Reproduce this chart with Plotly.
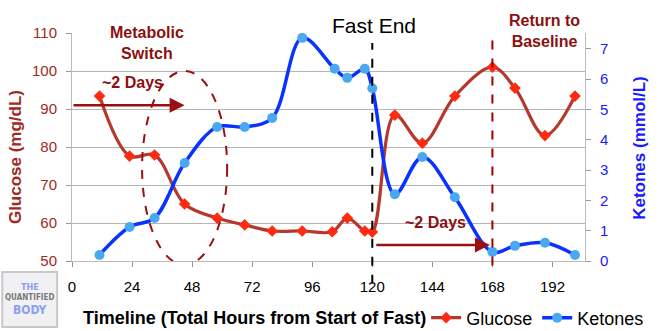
import plotly.graph_objects as go

glucose_hours = [11, 23, 33, 45, 58, 69, 80, 92, 104, 110, 117, 120, 129, 140, 153, 168, 177, 189, 201]
glucose = [93.4, 77.6, 77.9, 65.0, 61.3, 59.5, 57.9, 57.9, 57.7, 61.3, 57.9, 57.6, 88.4, 81.0, 93.4, 101.0, 95.5, 83.0, 93.4]

ketone_hours = [11, 23, 33, 45, 58, 69, 80, 92, 105, 110, 117, 120, 129, 140, 153, 168, 177, 189, 201]
ketones = [0.2, 1.12, 1.42, 3.23, 4.42, 4.42, 4.72, 7.36, 6.34, 6.04, 6.34, 5.7, 2.2, 3.43, 2.1, 0.3, 0.5, 0.6, 0.2]

x_ticks = [0, 24, 48, 72, 96, 120, 144, 168, 192]

FONT = "Liberation Sans, Arial, sans-serif"
RED_TXT = "#8b1010"
GL_LINE = "#b5382c"
KE_LINE = "#0a32ff"

fig = go.Figure()
fig.add_trace(go.Scatter(
    x=glucose_hours, y=glucose, name="Glucose", mode="lines+markers",
    line=dict(color=GL_LINE, width=3.2, shape="spline", smoothing=1.0),
    marker=dict(symbol="diamond", size=9, color="#ff2a10"),
))
fig.add_trace(go.Scatter(
    x=ketone_hours, y=ketones, name="Ketones", mode="lines+markers", yaxis="y2",
    line=dict(color=KE_LINE, width=3.5, shape="spline", smoothing=1.0),
    marker=dict(symbol="circle", size=10, color="#4aa8f0"),
))

fig.update_layout(
    width=660, height=331,
    margin=dict(l=72, r=75, t=33, b=70, autoexpand=False),
    paper_bgcolor="white", plot_bgcolor="white",
    font=dict(family=FONT, size=15, color="black"),
    showlegend=True,
    legend=dict(orientation="h", x=1.125, xanchor="right", y=-0.25, yanchor="middle",
                font=dict(size=18, color="black"), bgcolor="rgba(0,0,0,0)",
                tracegroupgap=0),
    xaxis=dict(range=[0, 205], tickvals=x_ticks, showgrid=False, zeroline=False,
               showline=True, linecolor="#bbbbbb", linewidth=1,
               ticks="outside", ticklen=5, tickcolor="#999999", automargin=False,
               ticklabelstandoff=7, tickfont=dict(size=15, color="black")),
    yaxis=dict(range=[50, 110], dtick=10, showgrid=True, gridcolor="#b5b5b5", gridwidth=1,
               zeroline=False, showline=True, linecolor="#bbbbbb", automargin=False,
               ticks="outside", ticklen=5, tickcolor="#999999", ticklabelstandoff=6,
               tickfont=dict(size=15, color="#a02a22")),
    yaxis2=dict(range=[0, 7.52], dtick=1, overlaying="y", side="right", showgrid=False,
                zeroline=False, showline=True, linecolor="#bbbbbb", automargin=False,
                ticks="outside", ticklen=5, tickcolor="#999999", ticklabelstandoff=6,
                tickfont=dict(size=15, color="#1a1aff")),
)

shapes = [
    dict(type="circle", xref="x", yref="y", x0=28, x1=62, y0=49, y1=100,
         line=dict(color="#9a1010", width=2, dash="dash")),
    dict(type="line", xref="x", yref="paper", x0=120, x1=120, y0=-0.10, y1=0.956,
         line=dict(color="black", width=2, dash="dash")),
    dict(type="line", xref="x", yref="paper", x0=168, x1=168, y0=-0.02, y1=1.0,
         line=dict(color="#a00000", width=2, dash="dash")),
    dict(type="rect", xref="paper", yref="paper", x0=-0.136, x1=-0.029, y0=-0.289, y1=-0.048,
         line=dict(color="#c8c8c8", width=2), fillcolor="#f1f1f4"),
]
fig.update_layout(shapes=shapes)


def txt(text, x, y, size, color, angle=0, family=None):
    f = dict(size=size, color=color)
    if family:
        f["family"] = family
    return dict(text=text, x=x, y=y, xref="paper", yref="paper", xanchor="center",
                yanchor="middle", showarrow=False, font=f, textangle=angle, align="center")


LOGO_FONT = "DejaVu Sans Condensed, sans-serif"
ann = [
    txt("<b>Metabolic<br>Switch</b>", 0.146, 0.956, 16, RED_TXT),
    txt("<b>~2 Days</b>", 0.117, 0.785, 16, RED_TXT),
    dict(x=45, y=91, ax=0, ay=91, xref="x", yref="y", axref="x", ayref="y", text="",
         showarrow=True, arrowhead=2, arrowsize=1.2, arrowwidth=2.5, arrowcolor="#9a1010"),
    txt("<b>~2 Days</b>", 0.709, 0.167, 16, RED_TXT),
    dict(x=167, y=54.2, ax=121, ay=54.2, xref="x", yref="y", axref="x", ayref="y", text="",
         showarrow=True, arrowhead=2, arrowsize=1.2, arrowwidth=2.5, arrowcolor="#9a1010"),
    txt("Fast End", 0.589, 1.035, 21, "black"),
    txt("<b>Return to<br>Baseline</b>", 0.922, 1.009, 16, RED_TXT),
    txt("<b>Timeline (Total Hours from Start of Fast)</b>", 0.355, -0.25, 18, "black"),
    txt("<b>Glucose (mg/dL)</b>", -0.111, 0.456, 17, "#a02a22", angle=-90),
    txt("<b>Ketones (mmol/L)</b>", 1.107, 0.496, 17, "#1a1aff", angle=-90),
    txt("<b>THE</b>", -0.0825, -0.114, 9, "#8aa0f0", family=LOGO_FONT),
    txt("<b>QUANTIFIED</b>", -0.0825, -0.162, 8, "#7a7a7a", family=LOGO_FONT),
    txt("<b>BODY</b>", -0.0825, -0.215, 12, "#8aa0f0", family=LOGO_FONT),
]
fig.update_layout(annotations=ann)

fig.write_html("out.html")
